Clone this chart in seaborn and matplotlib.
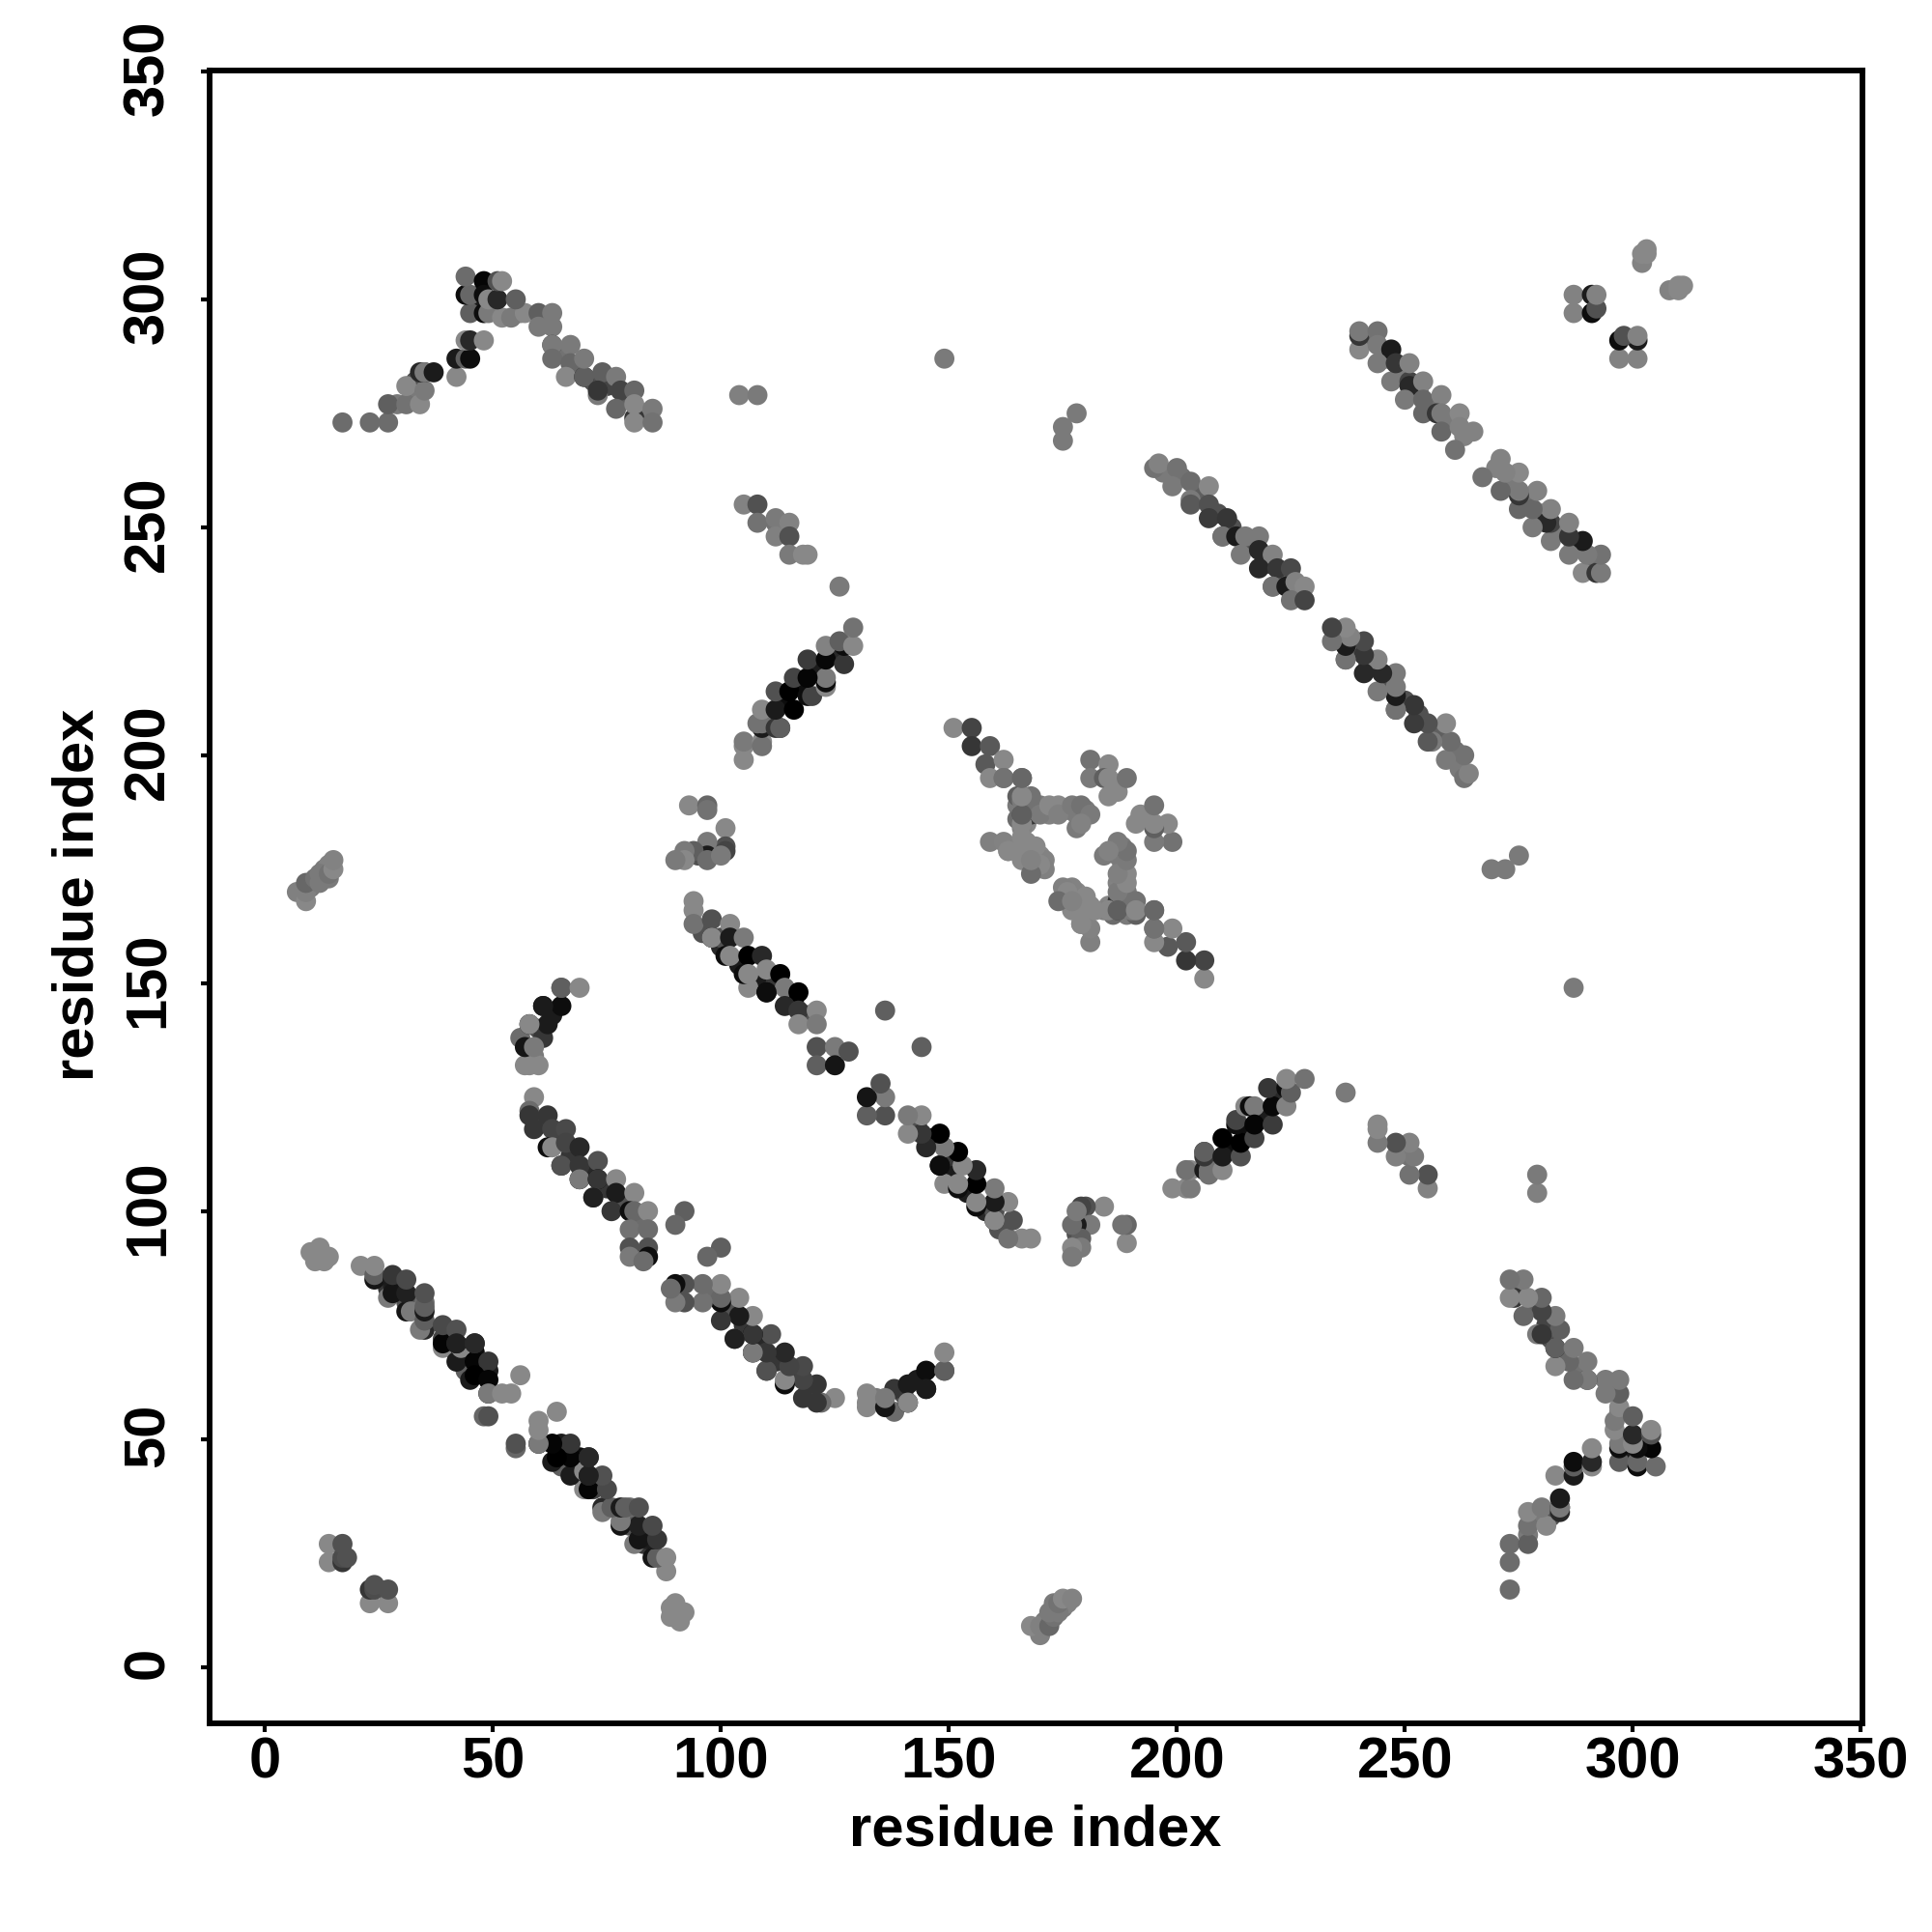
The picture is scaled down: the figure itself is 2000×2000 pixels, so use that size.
#setup
import pandas as pd
import matplotlib
matplotlib.use('Agg')
import matplotlib.pyplot as plt
from matplotlib.transforms import ScaledTranslation
import seaborn as sns

#contacts, only the half with i<j, the map is symmetric
#grey: 0 is black, 0.5 is the lightest grey used

#points half hidden under the strands, drawn first
under_i = [39, 42, 46, 49, 27, 31, 35, 44, 28,
           60, 64, 67, 71, 75, 78, 82,
           96, 100, 104, 108, 112, 116, 119,
           111, 114, 118, 121, 125,
           197, 201, 205, 209, 212, 216, 220, 224, 227,
           242, 246, 249, 253, 256, 260, 263,
           29, 33, 33, 47, 50, 65, 68, 72, 75, 79, 83, 56, 61,
           165, 167, 164, 167, 168, 170, 171, 171, 170, 172, 176, 178, 180, 165, 166,
           186, 187,
           59, 60, 63, 95, 99, 10, 13, 13, 14]
under_j = [72, 69, 69, 65, 83, 80, 80, 65, 84,
           119, 116, 112, 109, 105, 102, 98,
           161, 158, 154, 150, 150, 146, 143,
           208, 212, 215, 219, 222,
           262, 261, 257, 253, 250, 246, 242, 239, 236,
           291, 287, 284, 280, 277, 273, 270,
           277, 279, 282, 299, 298, 288, 285, 282, 281, 278, 275, 297, 295,
           189, 185, 180, 181, 179, 178, 177, 175, 189, 187, 188, 187, 188, 186, 184,
           193, 192,
           134, 140, 143, 178, 179, 171, 173, 175, 176]
under_g = [.25, .35, .05, .1, .2, .3, .4, .35, .12,
           .25, .15, .2, .15, .2, .3, .4,
           .3, .15, .1, .1, .2, .1, .3,
           .2, .05, .05, .1, .15,
           .45, .42, .35, .3, .3, .3, .3, .35, .4,
           .4, .45, .45, .42, .42, .45, .48,
           .45, .45, .3, .1, .35, .42, .42, .3, .25, .35, .45, .48, .45,
           .45, .5, .5, .5, .5, .5, .48, .47, .45, .48, .48, .45, .45, .4, .48,
           .5, .5,
           .45, .3, .1, .3, .4, .45, .45, .45, .48]

#cluster near (12,90) and the strand going to the middle
strand_a_i = [10, 12, 11, 13, 14, 21, 24, 24, 24, 27, 28, 28, 28, 31, 31, 32, 31, 35, 34, 35, 35, 35, 35,
              39, 39, 39, 42, 43, 42, 42, 42, 46, 46, 46, 49, 45, 46, 49, 49, 49, 52, 54, 56, 48, 49]
strand_a_j = [91, 92, 89, 89, 90, 88, 85, 86, 88, 81, 85, 82, 86, 78, 82, 78, 85, 74, 74, 76, 78, 79, 82,
              70, 71, 75, 67, 70, 71, 74, 71, 67, 71, 71, 67, 63, 64, 63, 60, 60, 60, 60, 64, 55, 55]
strand_a_g = [.5, .5, .5, .5, .5, .5, .08, .35, .5, .45, .1, .08, .2, .08, .12, .45, .27, .15, .45, .35, .1, .35, .3,
              .5, .02, .27, .1, .5, .12, .3, .12, .02, .15, .15, .2, .1, 0, .02, .05, .45, .5, .5, .5, .38, .3]

#bottom left corner
corner_i = [14, 14, 17, 17, 17, 18]
corner_j = [23, 27, 23, 24, 27, 24]
corner_g = [.5, .5, .2, .28, .3, .3]

#cluster near (12,172)
patch_i = [7, 9, 9, 9, 11, 12, 12, 14, 14, 15, 15]
patch_j = [170, 168, 170, 172, 173, 172, 174, 173, 174, 175, 177]
patch_g = [.47, .5, .47, .38, .42, .45, .45, .45, .42, .5, .48]

#arch at the top left
arch_i = [17, 23, 27, 27, 31, 34, 31, 35, 34, 35, 35, 37, 42, 42, 44, 45, 44, 45, 48,
          45, 48, 49, 52, 54, 57, 60, 63, 60, 63, 44, 45, 44, 48, 48, 49, 51, 51, 52, 55,
          63, 63, 67, 63, 67, 66, 70, 70, 70, 74, 77, 73, 73, 78, 81, 77, 81, 81, 85, 81, 85]
arch_j = [273, 273, 273, 277, 277, 277, 281, 280, 284, 284, 284, 284, 283, 287, 287, 287, 291, 291, 291,
          297, 297, 297, 296, 296, 297, 297, 297, 294, 294, 301, 301, 305, 304, 301, 300, 300, 304, 304, 300,
          290, 290, 290, 287, 286, 283, 283, 283, 287, 284, 283, 279, 280, 280, 280, 276, 274, 277, 276, 273, 273]
arch_g = [.4, .4, .4, .35, .42, .5, .5, .45, .15, .15, .45, .1, .5, .1, .35, .05, .5, .15, .5,
          .35, .05, .45, .5, .45, .5, .35, .45, .45, .45, .05, .38, .4, .02, .05, .5, .15, .3, .5, .35,
          .2, .45, .45, .4, .38, .5, .1, .35, .45, .35, .45, .45, .2, .25, .38, .38, .2, .5, .45, .5, .42]

#short hairpin piece near (62,140)
hook_i = [58, 57, 60, 56, 61, 57, 59, 58, 62, 61, 58, 65, 61, 65, 65, 69]
hook_j = [132, 132, 132, 138, 138, 136, 136, 141, 141, 145, 141, 145, 145, 149, 149, 149]
hook_g = [.5, .5, .5, .4, .2, .08, .45, .05, .1, .1, .5, .05, .1, .35, .35, .5]

#strand from (58,122) towards the diagonal
strand_b_i = [59, 58, 58, 59, 62, 63, 66, 62, 63, 66, 65, 65, 69, 69, 73, 69, 69, 73, 73, 77, 72, 72, 77, 76,
              81, 80, 81, 84, 80, 84, 80, 80, 84, 84, 83, 92, 90]
strand_b_j = [125, 122, 121, 118, 121, 118, 118, 114, 114, 115, 110, 110, 114, 110, 111, 107, 107, 107, 107, 107, 103, 103, 104, 100,
              104, 100, 100, 100, 96, 96, 92, 90, 92, 90, 89, 100, 97]
strand_b_g = [.5, .4, .2, .2, .2, .25, .27, .05, .5, .25, .15, .3, .15, .2, .3, .05, .45, .02, .2, .5, .35, .12, .1, .2,
              .5, .05, .38, .5, .42, .4, .3, .45, .3, .05, .4, .35, .38]

#strand from (94,168) towards the diagonal
strand_c_i = [94, 94, 94, 98, 100, 98, 98, 102, 102, 105, 101, 102, 106, 106, 109, 105, 106, 110, 110,
              113, 114, 110, 117, 114, 117, 121, 117, 121, 121, 125, 121, 125, 128, 136]
strand_c_j = [168, 166, 163, 164, 160, 160, 160, 163, 160, 160, 156, 156, 149, 156, 156, 152, 152, 153, 148,
              152, 149, 148, 148, 145, 144, 144, 141, 141, 136, 136, 132, 132, 135, 144]
strand_c_g = [.5, .5, .42, .3, .3, .05, .5, .5, .1, .45, .05, .5, .5, 0, .15, .05, .5, .5, .05,
              0, .45, .05, 0, .15, .2, .5, .5, .45, .3, .45, .35, .08, .3, .35]

#cluster near (95,182)
cluster_d_i = [93, 97, 97, 101, 101, 101, 97, 97, 94, 92, 92, 90, 97, 100]
cluster_d_j = [189, 189, 188, 184, 180, 179, 181, 178, 179, 179, 177, 177, 177, 178]
cluster_d_g = [.5, .38, .42, .5, .3, .25, .45, .1, .35, .45, .5, .45, .4, .45]

#rising strand up to (129,228)
rising_i = [105, 105, 105, 109, 109, 109, 108, 109, 113, 112, 113, 109, 112, 116, 112, 115, 119, 120, 116, 123,
            123, 123, 119, 119, 123, 127, 123, 127, 126, 129, 129]
rising_j = [199, 202, 203, 203, 202, 206, 207, 207, 206, 206, 206, 210, 210, 210, 214, 214, 213, 213, 217, 215,
            216, 217, 217, 221, 221, 220, 224, 224, 225, 224, 228]
rising_g = [.5, .5, .45, .5, .42, .1, .42, .42, .2, .2, .35, .5, .1, 0, .3, 0, .05, .25, .25, .5,
            .05, .45, .02, .22, .03, .2, .48, .05, .35, .5, .42]

#pieces higher up
upper_i = [105, 108, 108, 112, 112, 115, 112, 115, 115, 118, 119, 126, 104, 108, 149, 175, 175, 178]
upper_j = [255, 255, 251, 251, 252, 251, 248, 248, 244, 244, 244, 237, 279, 279, 287, 269, 272, 275]
upper_g = [.48, .3, .42, .42, .45, .48, .47, .3, .45, .5, .5, .45, .47, .45, .45, .45, .45, .45]

#strand from (151,206) and the blurred blob around (172,185)
blob_i = [151, 155, 155, 159, 158, 162, 159, 162, 166, 165, 166, 168, 166, 169, 170, 168, 172, 174, 174, 177,
          179, 181, 178, 179, 166, 159, 162, 166, 163, 169, 166, 170, 168, 168, 162, 163, 166, 166, 166]
blob_j = [206, 206, 202, 202, 198, 199, 195, 195, 195, 191, 187, 187, 190, 188, 187, 191, 189, 189, 187, 189,
          189, 187, 184, 185, 185, 181, 181, 182, 179, 180, 177, 176, 174, 177, 195, 179, 187, 191, 195]
blob_g = [.5, .25, .2, .33, .33, .5, .5, .42, .38, .35, .25, .2, .45, .42, .45, .42, .5, .5, .47, .45,
          .42, .45, .45, .48, .5, .47, .48, .5, .5, .5, .5, .5, .4, .48, .42, .5, .35, .5, .38]

#small cross above the blob
cross_i = [181, 185, 181, 184, 185, 189, 185]
cross_j = [199, 198, 195, 195, 195, 195, 191]
cross_g = [.42, .5, .45, .35, .5, .42, .5]

#long strand from (195,263)
strand_e_i = [195, 196, 200, 199, 203, 203, 203, 207, 207, 207, 211, 210, 210, 213, 215, 218, 214, 218, 221,
              218, 222, 225, 221, 221, 224, 226, 228, 225, 228]
strand_e_j = [263, 264, 263, 259, 260, 256, 255, 259, 255, 252, 252, 248, 248, 248, 248, 248, 244, 245, 244,
              241, 241, 241, 237, 237, 237, 238, 237, 234, 234]
strand_e_g = [.42, .48, .42, .45, .4, .45, .33, .5, .3, .22, .2, .35, .42, .1, .45, .45, .45, .15, .48,
              .15, .2, .27, .38, .42, .1, .48, .5, .42, .25]

#long strand from (240,293)
strand_f_i = [240, 240, 240, 244, 244, 247, 244, 247, 248, 251, 251, 250, 251, 254, 254, 254, 258, 257, 258,
              258, 262, 262, 265, 261]
strand_f_j = [289, 292, 293, 293, 290, 289, 286, 282, 286, 282, 281, 278, 286, 282, 278, 275, 279, 275, 275,
              271, 275, 272, 271, 267]
strand_f_g = [.5, .2, .45, .42, .45, .1, .45, .45, .2, .25, .15, .45, .48, .48, .38, .38, .48, .2, .45,
              .38, .5, .48, .48, .42]

#top right corner
tail_i = [287, 287, 291, 291, 292, 292, 302, 302, 303, 303]
tail_j = [297, 301, 297, 301, 298, 301, 308, 310, 310, 311]
tail_g = [.48, .48, .05, .1, .3, .48, .48, .5, .5, .5]

#contact table
contact_i = (under_i + strand_a_i + corner_i + patch_i + arch_i + hook_i + strand_b_i + strand_c_i + cluster_d_i
             + rising_i + upper_i + blob_i + cross_i + strand_e_i + strand_f_i + tail_i)
contact_j = (under_j + strand_a_j + corner_j + patch_j + arch_j + hook_j + strand_b_j + strand_c_j + cluster_d_j
             + rising_j + upper_j + blob_j + cross_j + strand_e_j + strand_f_j + tail_j)
contact_g = (under_g + strand_a_g + corner_g + patch_g + arch_g + hook_g + strand_b_g + strand_c_g + cluster_d_g
             + rising_g + upper_g + blob_g + cross_g + strand_e_g + strand_f_g + tail_g)
half = pd.DataFrame({'i': contact_i, 'j': contact_j, 'grey': contact_g})
#i,j and j,i are the same contact
mirror = half.rename(columns={'i': 'j', 'j': 'i'})
contacts = pd.concat([half, mirror], ignore_index=True)

tick_values = [0, 50, 100, 150, 200, 250, 300, 350]

sns.set_style('white')
plt.rcParams['font.family'] = ['Liberation Sans', 'DejaVu Sans']
plt.rcParams['font.weight'] = 'bold'
plt.rcParams['text.color'] = 'black'
plt.rcParams['axes.labelcolor'] = 'black'
plt.rcParams['xtick.color'] = 'black'
plt.rcParams['ytick.color'] = 'black'

fig = plt.figure(figsize=(10, 10), dpi=200)
ax = fig.add_axes([0.10835, 0.108, 0.8558, 0.8555])
sns.scatterplot(data=contacts, x='i', y='j', hue='grey', palette='gray', hue_norm=(0, 0.94),
                s=56, linewidth=0, legend=False, ax=ax)

ax.set_xlim(-12.2, 350.4)
ax.set_ylim(-12.35, 350.2)
ax.set_xticks(tick_values)
ax.set_yticks(tick_values)
ax.tick_params(axis='x', length=3.2, width=1.5, labelsize=21.5, pad=1.5, bottom=True)
ax.tick_params(axis='y', length=3.2, width=1.5, labelsize=21.5, pad=9.5, left=True)
#the rotated labels sit a little low otherwise
shift = ScaledTranslation(0, 4 / 200, fig.dpi_scale_trans)
for lab in ax.get_yticklabels():
    lab.set_rotation(90)
    lab.set_va('center')
    lab.set_transform(lab.get_transform() + shift)

ax.set_xlabel('residue index', fontsize=21.5, fontweight='bold', va='center')
ax.set_ylabel('residue index', fontsize=21.5, fontweight='bold', va='center')
ax.xaxis.set_label_coords(0.4995, -0.065)
ax.yaxis.set_label_coords(-0.079, 0.5015)

for side in ax.spines.values():
    side.set_visible(True)
    side.set_linewidth(2.1)
    side.set_color('black')

fig.savefig('out.png', dpi=200, facecolor='white')
